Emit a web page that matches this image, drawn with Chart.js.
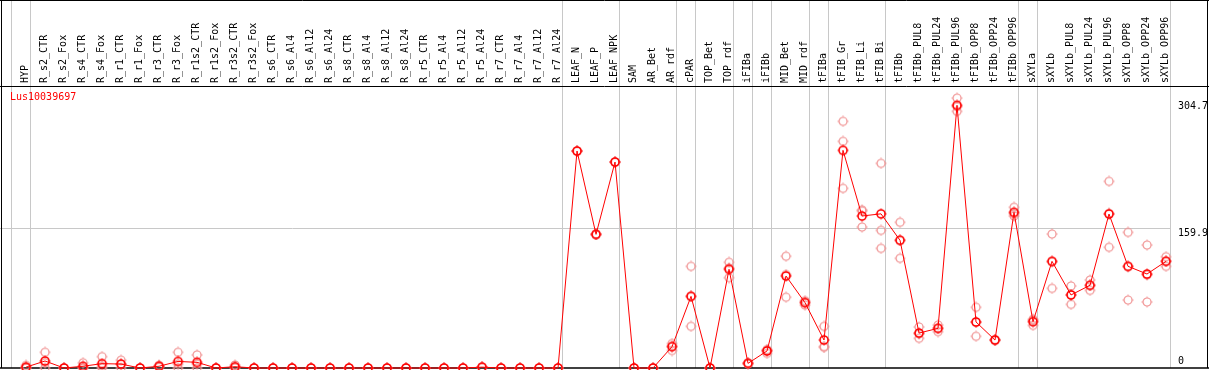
<!DOCTYPE html>
<html>
<head>
<meta charset="utf-8">
<script src="https://cdn.jsdelivr.net/npm/chart.js@4.4.0/dist/chart.umd.min.js"></script>
<style>
    html, body { margin: 0; padding: 0; background: #fff; }
    #wrap { width: 1209px; height: 370px; }
</style>
</head>
<body>
<div id="wrap"><canvas id="chart" width="1209" height="370"></canvas></div>
<script>
// 样本名称
const categories = [
    'HYP', 'R_s2_CTR', 'R_s2_Fox', 'R_s4_CTR', 'R_s4_Fox', 'R_r1_CTR', 'R_r1_Fox', 'R_r3_CTR', 'R_r3_Fox',
    'R_r1s2_CTR', 'R_r1s2_Fox', 'R_r3s2_CTR', 'R_r3s2_Fox', 'R_s6_CTR', 'R_s6_Al4', 'R_s6_Al12', 'R_s6_Al24',
    'R_s8_CTR', 'R_s8_Al4', 'R_s8_Al12', 'R_s8_Al24', 'R_r5_CTR', 'R_r5_Al4', 'R_r5_Al12', 'R_r5_Al24',
    'R_r7_CTR', 'R_r7_Al4', 'R_r7_Al12', 'R_r7_Al24', 'LEAF_N', 'LEAF_P', 'LEAF_NPK', 'SAM', 'AR_Bet', 'AR_rdf',
    'cPAR', 'TOP_Bet', 'TOP_rdf', 'iFIBa', 'iFIBb', 'MID_Bet', 'MID_rdf', 'tFIBa', 'tFIB_Gr', 'tFIB_Li', 'tFIB_Bi',
    'tFIBb', 'tFIBb_PUL8', 'tFIBb_PUL24', 'tFIBb_PUL96', 'tFIBb_OPP8', 'tFIBb_OPP24', 'tFIBb_OPP96',
    'sXYLa', 'sXYLb', 'sXYLb_PUL8', 'sXYLb_PUL24', 'sXYLb_PUL96', 'sXYLb_OPP8', 'sXYLb_OPP24', 'sXYLb_OPP96'
];

// 平均值
const meanValues = [
    1, 8, 0, 2, 5, 4.5, 0, 2, 7.5,
    6.5, 0, 1.5, 0, 0, 0, 0, 0,
    0, 0, 0, 0, 0, 0, 0, 1,
    0, 0, 0, 0, 248.4, 153, 235.8, 0, 0, 24.4,
    82, 0, 113, 5.3, 19.5, 105.3, 74.8, 32, 249.2, 174, 176.5,
    146.2, 40, 45.4, 300.7, 52.7, 32, 178.2,
    53, 122.1, 83.6, 94.7, 176.3, 116.4, 107.6, 122.1
];

// 重复样本
const rep1 = [
    3, 18, 0, 6, 13, 9, 0, 3, 18,
    15, 0, 3.5, 0, 0, 0, 0, 0,
    0, 0, 0, 0, 0, 0, 0, 1,
    0, 0, 0, 0, 248.4, 153, 235.8, 0, 0, 28,
    116.4, 0, 121, 6, 16.8, 128, 72, 47.7, 282.4, 181, 234.3,
    166.8, 47, 49.2, 309, 69.5, 32.5, 184,
    55.7, 153.4, 93.9, 100.7, 213.7, 155.3, 140.8, 127.4
];
const rep2 = [
    0, 0, 0, 0, 0, 0, 0, 2, 0,
    0, 0, 1, 0, 0, 0, 0, 0,
    0, 0, 0, 0, 0, 0, 0, 1,
    0, 0, 0, 0, 248.4, 153, 235.8, 0, 0, 20,
    47.7, 0, 103.4, 5, 21, 81, 77, 23.7, 259.5, 161.4, 157.6,
    125.6, 34, 41.6, 293.8, 36.3, 31.5, 174,
    48.8, 91.2, 72.9, 88.9, 138.2, 77.8, 75.6, 116.4
];
const rep3 = [
    0, 6, 0, 0, 2, 4.5, 0, 1, 4.5,
    4.5, 0, 0, 0, 0, 0, 0, 0,
    0, 0, 0, 0, 0, 0, 0, 1,
    0, 0, 0, 0, 248.4, 153, 235.8, 0, 0, 25,
    82, 0, 114.6, 5, 20.7, 107, 75.4, 24.6, 205.7, 179.6, 137,
    146.2, 39, 45.4, 299.3, 52.3, 32, 176.6,
    54.5, 121.7, 84, 94.5, 177, 116.1, 106.4, 122.5
];

// 纵轴刻度
const yTicks = [0, 159.9, 304.7];
// 分组边界（在这些样本之后画竖线）
const groupEnds = [-1, 0, 28, 31, 34, 35, 37, 38, 39, 41, 42, 45, 52, 53, 60];
const geneName = 'Lus10039697';

const monoFont = "'DejaVu Sans Mono', 'Liberation Mono', monospace";

// 带小刻度的圆形标记
function makeMarker(color, lw) {
    const c = document.createElement('canvas');
    c.width = 12;
    c.height = 12;
    const g = c.getContext('2d');
    g.strokeStyle = color;
    g.lineWidth = lw;
    g.beginPath();
    g.arc(6, 6, 4, 0, Math.PI * 2);
    g.stroke();
    g.lineWidth = 1;
    g.beginPath();
    g.moveTo(6, 0.5); g.lineTo(6, 1.8);
    g.moveTo(6, 10.2); g.lineTo(6, 11.5);
    g.moveTo(0.5, 6); g.lineTo(1.8, 6);
    g.moveTo(10.2, 6); g.lineTo(11.5, 6);
    g.stroke();
    return c;
}
const meanMarker = makeMarker('#ff0000', 1.6);
const repMarker = makeMarker('#f09090', 1.2);

const toPoints = arr => arr.map((v, i) => ({ x: i, y: v }));

const framePlugin = {
    id: 'frame',
    beforeDatasetsDraw(chart) {
        const { ctx, chartArea, scales } = chart;
        const w = chart.width;
        ctx.save();
        // 分组竖线
        ctx.strokeStyle = '#c8c8c8';
        ctx.lineWidth = 1;
        groupEnds.forEach(i => {
            const x = Math.round(scales.x.getPixelForValue(i + 0.21)) + 0.5;
            ctx.beginPath();
            ctx.moveTo(x, 0);
            ctx.lineTo(x, chartArea.bottom);
            ctx.stroke();
        });
        // 边框
        ctx.strokeStyle = '#000';
        ctx.beginPath();
        ctx.moveTo(0, 0.5); ctx.lineTo(w, 0.5);
        ctx.moveTo(0, chartArea.top - 0.5); ctx.lineTo(w, chartArea.top - 0.5);
        ctx.moveTo(1.5, 0); ctx.lineTo(1.5, chartArea.bottom);
        ctx.moveTo(w - 1.5, 0); ctx.lineTo(w - 1.5, chartArea.bottom);
        ctx.stroke();
        ctx.lineWidth = 1.5;
        ctx.beginPath();
        ctx.moveTo(0, chartArea.bottom); ctx.lineTo(w, chartArea.bottom);
        ctx.stroke();
        ctx.restore();
    },
    afterDraw(chart) {
        const { ctx, chartArea, scales } = chart;
        ctx.save();
        ctx.font = '10px ' + monoFont;
        // 纵轴标签
        ctx.fillStyle = '#000';
        ctx.textAlign = 'left';
        yTicks.forEach(v => {
            const y = scales.y.getPixelForValue(v);
            if (v === 0) {
                ctx.textBaseline = 'bottom';
                ctx.fillText(String(v), chartArea.right + 8, y - 2);
            } else {
                ctx.textBaseline = 'top';
                ctx.fillText(String(v), chartArea.right + 8, y);
            }
        });
        // 基因名
        ctx.fillStyle = '#ff0000';
        ctx.textBaseline = 'middle';
        ctx.fillText(geneName, 10, chartArea.top + 10);
        ctx.restore();
    }
};

const chart = new Chart(document.getElementById('chart').getContext('2d'), {
    type: 'line',
    data: {
        datasets: [
            {
                data: toPoints(meanValues),
                borderColor: '#ff0000',
                borderWidth: 1,
                pointStyle: meanMarker,
                pointRadius: 4,
                tension: 0,
                clip: false,
                order: 0
            },
            ...[rep1, rep2, rep3].map(r => ({
                data: toPoints(r),
                showLine: false,
                pointStyle: repMarker,
                pointRadius: 4,
                clip: false,
                order: 1
            }))
        ]
    },
    options: {
        responsive: false,
        animation: false,
        events: [],
        layout: { autoPadding: false, padding: { top: 0, left: 0, right: 0, bottom: 2 } },
        plugins: {
            legend: { display: false },
            tooltip: { enabled: false }
        },
        scales: {
            x: {
                type: 'linear',
                position: 'top',
                min: -1.37,
                max: 60.21,
                afterBuildTicks: s => { s.ticks = categories.map((c, i) => ({ value: i })); },
                afterFit: s => {
                    s.height = 87;
                    s.paddingLeft = 0;
                    s.paddingRight = 0;
                },
                grid: { display: false, drawTicks: false },
                border: { display: false },
                ticks: {
                    autoSkip: false,
                    minRotation: 90,
                    maxRotation: 90,
                    padding: 4,
                    labelOffset: 11,
                    color: '#000',
                    font: { family: monoFont, size: 10 },
                    callback: v => categories[v]
                }
            },
            y: {
                position: 'right',
                min: 0,
                max: 321.7,
                afterBuildTicks: s => { s.ticks = yTicks.map(v => ({ value: v })); },
                afterFit: s => { s.width = 39; },
                grid: {
                    drawTicks: false,
                    color: c => (c.tick && c.tick.value > 0 && c.tick.value < yTicks[yTicks.length - 1]) ? '#c8c8c8' : 'rgba(0,0,0,0)'
                },
                border: { display: false },
                ticks: { display: false }
            }
        }
    },
    plugins: [framePlugin]
});
</script>
</body>
</html>
